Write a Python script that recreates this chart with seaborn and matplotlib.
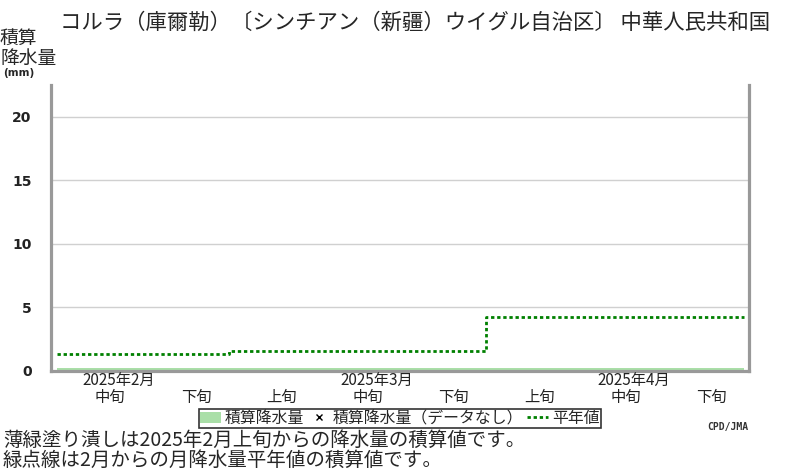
import numpy as np
import pandas as pd
import matplotlib
matplotlib.use("Agg")
import matplotlib.pyplot as plt
from matplotlib.patches import Patch
from matplotlib.lines import Line2D
import seaborn as sns

# --- data (x axis in dekads, 0 = 2025-02 中旬 start) ---
dekad_labels = ["中旬", "下旬", "上旬", "中旬", "下旬", "上旬", "中旬", "下旬"]
month_labels = ["2025年2月", "2025年3月", "2025年4月"]
month_label_dekad = [0, 3, 6]          # each month label sits over its 中旬
month_edges = [0, 2, 5, 8]             # month boundaries in dekads
normal_cum = [1.3, 1.5, 4.2]           # cumulative monthly normal (mm)
precip_cum = [0.2, 0.2, 0.2, 0.2, 0.2, 0.2, 0.2, 0.2, 0.2]  # cumulative precip at dekad edges

title = "コルラ（庫爾勒）〔シンチアン（新疆）ウイグル自治区〕 中華人民共和国"
note1 = "薄緑塗り潰しは2025年2月上旬からの降水量の積算値です。"
note2 = "緑点線は2月からの月降水量平年値の積算値です。"

sns.set_theme(style="white")
plt.rcParams["font.family"] = ["Noto Sans CJK JP", "DejaVu Sans"]

W, H = 800, 470
fig = plt.figure(figsize=(8, 4.7), dpi=100)
ax = fig.add_axes([51 / W, 1 - 370.5 / H, (749 - 51) / W, (370.5 - 85) / H])

fill_col = "#aadfa8"
grey = "#999999"
dots = (0, (1.2, 1.0))

# cumulative precipitation
xs = np.arange(len(precip_cum))
ax.fill_between(xs, 0, precip_cum, color=fill_col, lw=0, zorder=2)

# normal line (step at month edges)
norm_df = pd.DataFrame({"x": month_edges, "y": normal_cum + [normal_cum[-1]]})
sns.lineplot(data=norm_df, x="x", y="y", ax=ax, drawstyle="steps-post",
             color="#008000", lw=2, linestyle=dots, zorder=3)

ax.set_xlim(-0.07, 8.06)
ax.set_ylim(0, 22.5)
ax.set_yticks([0, 5, 10, 15, 20])
ax.set_yticklabels(["0", "5", "10", "15", "20"], fontsize=10,
                   fontweight="bold", family="DejaVu Sans", color="#222222")
ax.yaxis.grid(True, color="#d0d0d0", lw=1)
ax.tick_params(axis="y", length=5, color="#cccccc", pad=9)
ax.set_xticks(month_edges[1:])
ax.set_xticklabels([])
ax.tick_params(axis="x", length=17, width=1, color="#cccccc", direction="out")
ax.set_xlabel("")
ax.set_ylabel("")

for side in ["left", "right", "bottom"]:
    ax.spines[side].set_color(grey)
    ax.spines[side].set_linewidth(2.3)
ax.spines["top"].set_visible(False)

trans = ax.get_xaxis_transform()
for i, lab in enumerate(dekad_labels):
    ax.text(i + 0.62, -0.094, lab, transform=trans, ha="center", va="center",
            fontsize=11, color="#222222")
for d, lab in zip(month_label_dekad, month_labels):
    ax.text(d + 0.72, -0.035, lab, transform=trans, ha="center", va="center",
            fontsize=11, color="#222222")

# titles and notes
fig.text(60 / W, 1 - 23 / H, title, fontsize=15.4, va="center", ha="left")
fig.text(0, 1 - 38 / H, "積算", fontsize=13.5, va="center", ha="left")
fig.text(0, 1 - 58 / H, "降水量", fontsize=13.5, va="center", ha="left")
fig.text(3 / W, 1 - 73 / H, "(mm)", fontsize=7.5, va="center", ha="left",
         fontweight="bold", family="DejaVu Sans")
fig.text(3 / W, 1 - 440 / H, note1, fontsize=14, va="center", ha="left")
fig.text(3 / W, 1 - 460 / H, note2, fontsize=14, va="center", ha="left")
fig.text(748 / W, 1 - 427 / H, "CPD/JMA", fontsize=7, va="center", ha="right",
         fontweight="bold", family="DejaVu Sans Mono", color="#333333")

handles = [
    Patch(facecolor=fill_col, edgecolor="none", label="積算降水量"),
    Line2D([], [], marker="x", color="black", lw=0, markersize=5,
           label="積算降水量（データなし）"),
    Line2D([], [], color="#008000", lw=2, linestyle=dots, label="平年値"),
]
leg = fig.legend(handles=handles, loc="center", ncol=3,
                 bbox_to_anchor=(400 / W, 1 - 418.5 / H), fontsize=11.4,
                 frameon=True, fancybox=False, borderpad=0.08,
                 handlelength=1.3, handletextpad=0.25, columnspacing=0.25,
                 borderaxespad=0)
leg.get_frame().set_edgecolor("black")
leg.get_frame().set_linewidth(1.2)

fig.savefig("out.png", dpi=100)
